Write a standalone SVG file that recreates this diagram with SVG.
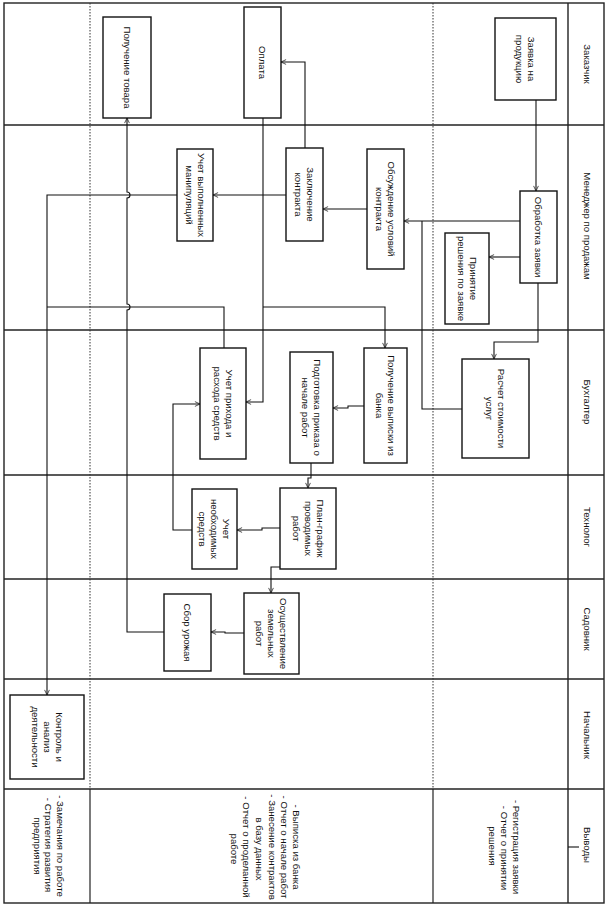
<svg xmlns="http://www.w3.org/2000/svg" width="607" height="909" viewBox="0 0 607 909">
<style>
  text { font-family: "Liberation Sans", Arial, sans-serif; font-size: 9.6px; fill: #111; }
  .box { fill: #fff; stroke: #111; stroke-width: 1.4; }
  .lane { fill: none; stroke: #222; stroke-width: 1.4; }
  .dash { fill: none; stroke: #333; stroke-width: 1; stroke-dasharray: 1.5,1.5; }
  .sol { fill: none; stroke: #222; stroke-width: 1.2; }
  .c { fill: none; stroke: #111; stroke-width: 1.1; }
  .ca { fill: none; stroke: #111; stroke-width: 1.1; marker-end: url(#arr); }
</style>
<defs>
  <marker id="arr" viewBox="0 0 10 10" refX="9.5" refY="5" markerWidth="6" markerHeight="6" orient="auto" markerUnits="userSpaceOnUse">
    <path d="M1,1 L9.5,5 L1,9" fill="none" stroke="#111" stroke-width="1.2"/>
  </marker>
</defs>
<rect x="0" y="0" width="607" height="909" fill="#fff"/>
<g id="lanes">
  <rect x="4" y="3" width="600" height="900" class="lane"/>
  <line x1="4" y1="125" x2="604" y2="125" class="lane"/>
  <line x1="4" y1="330" x2="604" y2="330" class="lane"/>
  <line x1="4" y1="475" x2="604" y2="475" class="lane"/>
  <line x1="4" y1="579" x2="604" y2="579" class="lane"/>
  <line x1="4" y1="679" x2="604" y2="679" class="lane"/>
  <line x1="4" y1="789" x2="604" y2="789" class="lane"/>
  <line x1="568" y1="3" x2="568" y2="903" class="lane"/>
  <line x1="90" y1="3" x2="90" y2="789" class="dash"/>
  <line x1="433" y1="3" x2="433" y2="789" class="dash"/>
  <line x1="90" y1="789" x2="90" y2="903" class="sol"/>
  <line x1="433" y1="789" x2="433" y2="903" class="sol"/>
  <line x1="568" y1="847" x2="579" y2="847" class="c"/>
  <text transform="translate(587,64) rotate(90)" text-anchor="middle" dy="3.5">Заказчик</text>
  <text transform="translate(587,226) rotate(90)" text-anchor="middle" dy="3.5">Менеджер по продажам</text>
  <text transform="translate(587,402) rotate(90)" text-anchor="middle" dy="3.5">Бухгалтер</text>
  <text transform="translate(587,527) rotate(90)" text-anchor="middle" dy="3.5">Технолог</text>
  <text transform="translate(587,629) rotate(90)" text-anchor="middle" dy="3.5">Садовник</text>
  <text transform="translate(587,735) rotate(90)" text-anchor="middle" dy="3.5">Начальник</text>
  <text transform="translate(587,845) rotate(90)" text-anchor="middle" dy="3.5">Выводы</text>
</g>
<g id="connectors">
  <path class="ca" d="M536,100 V191"/>
  <path class="ca" d="M520,221 H404"/>
  <path class="ca" d="M520,257 H489"/>
  <path class="ca" d="M538,283 V342 H494 V359"/>
  <path class="c" d="M462,409 H422 V221"/>
  <path class="ca" d="M367,209 H323"/>
  <path class="ca" d="M286,195 H213"/>
  <path class="ca" d="M305,148 V62 H281"/>
  <path class="ca" d="M263,118 V402 H246"/>
  <path class="ca" d="M263,307 H385 V348"/>
  <path class="ca" d="M364,406 H348 V408 H333"/>
  <path class="ca" d="M311,463 V478 H308 V488"/>
  <path class="ca" d="M280,528 H262 V530 H237"/>
  <path class="ca" d="M280,567 H271 V593"/>
  <path class="ca" d="M192,530 H173 V404 H200"/>
  <path class="ca" d="M244,633 H225 V632 H211"/>
  <path class="ca" d="M164,632 H127 V310 A3,3 0 0 0 127,304 V198 A3,3 0 0 0 127,192 V118"/>
  <path class="ca" d="M177,195 H47 V695"/>
  <path class="c" d="M224,348 V307 H47"/>
</g>
<g id="n_poluchenie_tovara">
  <rect class="box" x="103" y="17" width="48" height="101"/>
  <text transform="translate(127,67.5) rotate(90)" text-anchor="middle" dy="3.5">Получение товара</text>
</g>
<g id="n_oplata">
  <rect class="box" x="244" y="7" width="37" height="111"/>
  <text transform="translate(262.5,62.5) rotate(90)" text-anchor="middle" dy="3.5">Оплата</text>
</g>
<g id="n_zayavka">
  <rect class="box" x="495" y="18" width="61" height="82"/>
  <text transform="translate(525.5,59) rotate(90)" text-anchor="middle"><tspan x="0" dy="-2.5">Заявка на</tspan><tspan x="0" dy="12">продукцию</tspan></text>
</g>
<g id="n_uchet_vyp">
  <rect class="box" x="177" y="149" width="36" height="92"/>
  <text transform="translate(195,195) rotate(90)" text-anchor="middle"><tspan x="0" dy="-2.5">Учет выполненных</tspan><tspan x="0" dy="12">манипуляций</tspan></text>
</g>
<g id="n_zaklyuchenie">
  <rect class="box" x="286" y="148" width="37" height="93"/>
  <text transform="translate(304.5,194.5) rotate(90)" text-anchor="middle"><tspan x="0" dy="-2.5">Заключение</tspan><tspan x="0" dy="12">контракта</tspan></text>
</g>
<g id="n_obsuzhdenie">
  <rect class="box" x="367" y="149" width="37" height="120"/>
  <text transform="translate(385.5,209) rotate(90)" text-anchor="middle"><tspan x="0" dy="-2.5">Обсуждение условий</tspan><tspan x="0" dy="12">контракта</tspan></text>
</g>
<g id="n_obrabotka">
  <rect class="box" x="520" y="191" width="37" height="92"/>
  <text transform="translate(538.5,237) rotate(90)" text-anchor="middle" dy="3.5">Обработка заявки</text>
</g>
<g id="n_prinyatie">
  <rect class="box" x="445" y="233" width="44" height="91"/>
  <text transform="translate(467,278.5) rotate(90)" text-anchor="middle"><tspan x="0" dy="-2.5">Принятие</tspan><tspan x="0" dy="12">решения по заявке</tspan></text>
</g>
<g id="n_uchet_prihoda">
  <rect class="box" x="200" y="348" width="46" height="111"/>
  <text transform="translate(223,403.5) rotate(90)" text-anchor="middle"><tspan x="0" dy="-2.5">Учет прихода и</tspan><tspan x="0" dy="12">расхода средств</tspan></text>
</g>
<g id="n_podgotovka">
  <rect class="box" x="290" y="352" width="43" height="111"/>
  <text transform="translate(311.5,407.5) rotate(90)" text-anchor="middle"><tspan x="0" dy="-2.5">Подготовка приказа о</tspan><tspan x="0" dy="12">начале работ</tspan></text>
</g>
<g id="n_vypiska">
  <rect class="box" x="364" y="348" width="43" height="115"/>
  <text transform="translate(385.5,405.5) rotate(90)" text-anchor="middle"><tspan x="0" dy="-2.5">Получение выписки из</tspan><tspan x="0" dy="12">банка</tspan></text>
</g>
<g id="n_raschet">
  <rect class="box" x="462" y="359" width="67" height="99"/>
  <text transform="translate(495.5,408.5) rotate(90)" text-anchor="middle"><tspan x="0" dy="-2.5">Расчет стоимости</tspan><tspan x="0" dy="12">услуг</tspan></text>
</g>
<g id="n_uchet_neobh">
  <rect class="box" x="192" y="489" width="45" height="80"/>
  <text transform="translate(214.5,529) rotate(90)" text-anchor="middle"><tspan x="0" dy="-8.5">Учет</tspan><tspan x="0" dy="12">необходимых</tspan><tspan x="0" dy="12">средств</tspan></text>
</g>
<g id="n_plan">
  <rect class="box" x="280" y="488" width="56" height="81"/>
  <text transform="translate(308,528.5) rotate(90)" text-anchor="middle"><tspan x="0" dy="-8.5">План-график</tspan><tspan x="0" dy="12">проводимых</tspan><tspan x="0" dy="12">работ</tspan></text>
</g>
<g id="n_osushchestvlenie">
  <rect class="box" x="244" y="593" width="55" height="81"/>
  <text transform="translate(271.5,633.5) rotate(90)" text-anchor="middle"><tspan x="0" dy="-8.5">Осуществление</tspan><tspan x="0" dy="12">земельных</tspan><tspan x="0" dy="12">работ</tspan></text>
</g>
<g id="n_sbor">
  <rect class="box" x="164" y="594" width="47" height="77"/>
  <text transform="translate(187.5,632.5) rotate(90)" text-anchor="middle" dy="3.5">Сбор урожая</text>
</g>
<g id="n_kontrol">
  <rect class="box" x="10" y="695" width="74" height="84"/>
  <text transform="translate(47,737) rotate(90)" text-anchor="middle"><tspan x="0" dy="-8.5">Контроль и</tspan><tspan x="0" dy="12">анализ</tspan><tspan x="0" dy="12">деятельности</tspan></text>
</g>
<g id="outputs">
  <text transform="translate(60,846) rotate(90)" text-anchor="middle" dy="3.5">- Замечания по работе</text>
  <text transform="translate(48.5,845) rotate(90)" text-anchor="middle" dy="3.5">- Стратегия развития</text>
  <text transform="translate(37,846) rotate(90)" text-anchor="middle" dy="3.5">предприятия</text>
  <text transform="translate(296,847) rotate(90)" text-anchor="middle" dy="3.5">- Выписка из банка</text>
  <text transform="translate(284,847) rotate(90)" text-anchor="middle" dy="3.5">- Отчет о начале работ</text>
  <text transform="translate(272,847) rotate(90)" text-anchor="middle" dy="3.5">- Занесение контрактов</text>
  <text transform="translate(259,849) rotate(90)" text-anchor="middle" dy="3.5">в базу данных</text>
  <text transform="translate(246,847) rotate(90)" text-anchor="middle" dy="3.5">- Отчет о проделанной</text>
  <text transform="translate(234,849) rotate(90)" text-anchor="middle" dy="3.5">работе</text>
  <text transform="translate(516,847) rotate(90)" text-anchor="middle" dy="3.5">- Регистрация заявки</text>
  <text transform="translate(504,848) rotate(90)" text-anchor="middle" dy="3.5">- Отчет о принятии</text>
  <text transform="translate(492,846) rotate(90)" text-anchor="middle" dy="3.5">решения</text>
</g>
</svg>
